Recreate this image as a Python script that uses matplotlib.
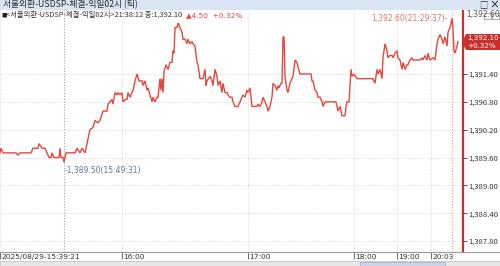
import matplotlib
matplotlib.use("Agg")
import matplotlib.pyplot as plt
from matplotlib.patches import Rectangle, Polygon

plt.rcParams['font.family'] = ['Noto Sans CJK KR', 'DejaVu Sans']

# ---- data (tick index within session, price) ----
tick_idx = [0, 1, 3, 16, 18, 20, 31, 33, 38, 39, 42, 45, 47, 49, 51, 52, 54, 59, 60, 61, 63, 64, 66, 75, 77, 80, 82, 85,
            88, 90, 93, 95, 98, 100, 103, 107, 108, 112, 113, 115, 117, 118, 120, 122, 123, 125, 127, 128, 130, 132,
            133, 135, 137, 139, 142, 143, 145, 147, 148, 150, 152, 153, 155, 157, 158, 160, 161, 162, 163, 164, 166,
            168, 170, 172, 173, 174, 175, 177, 178, 180, 182, 183, 185, 187, 188, 190, 192, 193, 195, 197, 198, 200,
            203, 205, 206, 207, 210, 212, 213, 215, 217, 218, 220, 222, 223, 225, 227, 228, 230, 232, 233, 235, 238,
            240, 242, 243, 245, 247, 248, 250, 252, 257, 258, 260, 262, 263, 265, 267, 268, 270, 272, 273, 275, 277,
            278, 279, 281, 282, 283, 284, 285, 287, 288, 290, 292, 293, 295, 297, 298, 300, 311, 312, 313, 315, 317,
            318, 320, 322, 323, 325, 336, 338, 340, 342, 345, 346, 347, 349, 351, 352, 354, 357, 373, 375, 377, 378,
            380, 382, 383, 385, 387, 388, 390, 392, 393, 395, 397, 398, 400, 402, 403, 405, 407, 408, 410, 412, 413,
            420, 422, 423, 425, 427, 428, 430, 433, 435, 437, 438, 440, 442, 443, 445, 447, 448, 450, 452, 453, 454,
            455, 457, 458]
price = [1389.70, 1389.80, 1389.70, 1389.70, 1389.65, 1389.70, 1389.70, 1389.80, 1389.80, 1389.90, 1389.80, 1389.80,
         1389.70, 1389.60, 1389.60, 1389.70, 1389.60, 1389.60, 1389.80, 1389.60, 1389.60, 1389.50, 1389.70, 1389.70,
         1389.80, 1389.70, 1389.80, 1389.70, 1390.00, 1390.20, 1390.25, 1390.40, 1390.35, 1390.40, 1390.60, 1390.60,
         1390.75, 1390.85, 1390.75, 1391.00, 1390.95, 1391.00, 1390.95, 1391.00, 1390.80, 1390.85, 1390.85, 1391.00,
         1390.90, 1391.00, 1391.05, 1391.25, 1391.40, 1391.25, 1391.25, 1391.15, 1391.25, 1391.05, 1391.10, 1390.95,
         1390.80, 1390.90, 1390.80, 1390.90, 1390.90, 1391.30, 1391.05, 1391.30, 1391.00, 1391.45, 1391.60, 1391.50,
         1391.65, 1391.65, 1391.90, 1391.85, 1392.40, 1392.40, 1392.50, 1392.40, 1392.30, 1392.15, 1392.15, 1392.05,
         1392.15, 1392.05, 1392.10, 1392.05, 1392.00, 1391.65, 1391.60, 1391.30, 1391.30, 1391.50, 1391.15, 1391.25,
         1391.35, 1391.25, 1391.15, 1391.50, 1391.35, 1391.15, 1391.25, 1391.00, 1391.20, 1391.00, 1391.00, 1390.95,
         1390.90, 1390.90, 1390.80, 1390.70, 1390.70, 1390.80, 1390.90, 1390.95, 1390.90, 1391.05, 1391.00, 1391.10,
         1390.70, 1390.70, 1390.75, 1390.70, 1390.80, 1390.90, 1390.80, 1390.70, 1390.60, 1390.70, 1390.90, 1391.20,
         1391.15, 1391.05, 1391.15, 1391.10, 1391.20, 1391.20, 1392.20, 1392.20, 1391.35, 1391.05, 1391.00, 1391.20,
         1391.30, 1391.35, 1391.70, 1391.65, 1391.55, 1391.40, 1391.40, 1391.25, 1391.25, 1391.05, 1391.00, 1390.90,
         1390.90, 1390.80, 1390.70, 1390.80, 1390.80, 1390.60, 1390.70, 1390.50, 1390.50, 1390.70, 1390.80, 1390.80,
         1391.50, 1391.35, 1391.40, 1391.30, 1391.30, 1391.20, 1391.50, 1391.40, 1391.50, 1391.30, 1391.75, 1392.05,
         1391.90, 1391.75, 1391.80, 1391.80, 1391.75, 1391.85, 1391.90, 1391.75, 1391.70, 1391.50, 1391.65, 1391.50,
         1391.60, 1391.60, 1391.70, 1391.75, 1391.70, 1391.70, 1391.75, 1391.70, 1391.80, 1391.70, 1391.85, 1391.70,
         1391.75, 1391.70, 1392.05, 1392.15, 1392.25, 1392.15, 1392.05, 1392.20, 1392.00, 1392.30, 1392.40, 1392.60,
         1392.35, 1391.90, 1391.85, 1392.00, 1392.10]

y_ticks = [1387.80, 1388.40, 1389.00, 1389.60, 1390.20, 1390.80, 1391.40]
x_tick_pos = [0, 122, 248, 354, 397, 431]
x_tick_labels = ["2025/08/29-15:39:21", "16:00", "17:00", "18:00", "19:00", "20:03"]

low_idx, low_val, low_time = 64, 1389.50, "15:49:31"
high_idx, high_val, high_time = 452, 1392.60, "21:29:37"
last_val, change, change_pct = 1392.10, 4.50, 0.32

W, H = 500, 266
fig = plt.figure(figsize=(W / 100, H / 100), dpi=100)
fig.patch.set_facecolor('white')

# title bar
fig.add_artist(Rectangle((0, 1 - 10 / H), 1, 10 / H, transform=fig.transFigure, facecolor='#d9e5f3',
                         edgecolor='none'))
fig.text(3 / W, 1 - 5 / H, "서울외환-USDSP-체결-익일02시 (틱)", fontsize=6.3, color='#2a2a2a',
         va='center', ha='left')
fig.text(483 / W, 1 - 5 / H, "□", fontsize=6, color='#333333', va='center', ha='center')
fig.text(494 / W, 1 - 5 / H, "×", fontsize=7, color='#333333', va='center', ha='center', weight='bold')

# main axes
ax_right_px, ax_top_px, ax_bot_px = 463, 10, 252
ax = fig.add_axes([0, (H - ax_bot_px) / H, ax_right_px / W, (ax_bot_px - ax_top_px) / H])
ax.set_facecolor('white')

ax.plot(tick_idx, price, color='#e5473c', lw=1.0, solid_joinstyle='miter', zorder=3)

px_per_unit = 46.4
y_top = 1391.40 + (74 - ax_top_px) / px_per_unit
y_bot = 1391.40 - (ax_bot_px - 74) / px_per_unit
ax.set_ylim(y_bot, y_top)
ax.set_xlim(0, 463)

ax.yaxis.tick_right()
ax.set_yticks(y_ticks)
ax.set_yticklabels([f"{v:,.2f}" for v in y_ticks])
ax.tick_params(axis='y', length=3, width=0.6, color='#333333', pad=1, labelsize=5.5, labelcolor='#333333')

ax.set_xticks(x_tick_pos)
ax.tick_params(axis='x', length=5, width=0.6, color='#555555', labelbottom=False)
for pos, lab in zip(x_tick_pos, x_tick_labels):
    ax.annotate(lab, xy=(pos, 0), xycoords=('data', 'axes fraction'), xytext=(1, -5),
                textcoords='offset pixels', fontsize=5.4, color='#333333', ha='left', va='center',
                family=['DejaVu Sans'], annotation_clip=False)

ax.grid(True, linestyle=(0, (1, 2)), color='#c8c8c8', lw=0.6, zorder=0)

for s in ['top', 'left', 'bottom']:
    ax.spines[s].set_visible(False)
ax.spines['right'].set_color('#c9302c')
ax.spines['right'].set_linewidth(1.6)

# low / high markers
ax.axvline(low_idx, color='#8fa3bd', lw=0.8, linestyle=(0, (1, 1.5)), zorder=1)
ax.axvline(high_idx, color='#d9a3a0', lw=0.8, linestyle=(0, (1, 1.5)), zorder=1)
ax.annotate(f"-{low_val:,.2f}({low_time})", xy=(low_idx, low_val), xytext=(1, -8), textcoords='offset pixels',
            fontsize=5.5, color='#5878a6', ha='left', va='center', family=['DejaVu Sans'])
ax.annotate(f"{high_val:,.2f}({high_time})-", xy=(high_idx, high_val), xytext=(-4, 0), textcoords='offset pixels',
            fontsize=5.5, color='#d9776b', ha='right', va='center', family=['DejaVu Sans'])

# subtitle row
sub_y = 1 - 15 / H
fig.text(1 / W, sub_y, "■", fontsize=4, color='#222222', va='center', ha='left')
t2 = fig.text(6 / W, sub_y, f"<서울외환-USDSP-체결-익일02시>21:38:12 종:{last_val:,.2f}", fontsize=5.3,
              color='#333333', va='center', ha='left')
fig.canvas.draw()
bb = t2.get_window_extent()
fig.text((bb.x1 + 4) / W, sub_y, f"▲{change:.2f}  +{change_pct:.2f}%", fontsize=5.3, color='#e0453a',
         va='center', ha='left', family=['DejaVu Sans'])

# right side labels
fig.text(466 / W, 1 - 15 / H, f"{high_val:,.2f}", fontsize=5.5, color='#555555', va='center', ha='left',
         family=['DejaVu Sans'])
fig.add_artist(Rectangle((484 / W, 1 - 19 / H), 7 / W, 6 / H, transform=fig.transFigure, facecolor='white',
                         edgecolor='#888888', lw=0.5))
fig.add_artist(Rectangle((492 / W, 1 - 19 / H), 7 / W, 6 / H, transform=fig.transFigure, facecolor='white',
                         edgecolor='#888888', lw=0.5))
# current price box with arrow
y_cur = 1 - 42 / H
box = Polygon([(462 / W, y_cur), (466 / W, 1 - 34 / H), (500 / W, 1 - 34 / H), (500 / W, 1 - 50 / H),
               (466 / W, 1 - 50 / H)], closed=True, transform=fig.transFigure, facecolor='#c9302c',
              edgecolor='none')
fig.add_artist(box)
fig.text(467 / W, 1 - 38 / H, f"{last_val:,.2f}", fontsize=5.1, color='white', va='center', ha='left',
         family=['DejaVu Sans'])
fig.text(467 / W, 1 - 46 / H, f"+{change_pct:.2f}%", fontsize=5.1, color='white', va='center', ha='left',
         family=['DejaVu Sans'])

# bottom border and scrollbar
fig.add_artist(plt.Line2D([0, 1], [(H - 252) / H] * 2, transform=fig.transFigure, color='#9a9a9a', lw=0.8))
fig.add_artist(Rectangle((0, 0), 1, 5 / H, transform=fig.transFigure, facecolor='#e6e6e6', edgecolor='#bdbdbd',
                         lw=0.5))
fig.add_artist(Rectangle((360 / W, 0.5 / H), 85 / W, 4 / H, transform=fig.transFigure, facecolor='#c9d5e6',
                         edgecolor='#9aaac4', lw=0.5))

fig.savefig("out.png", dpi=100, facecolor='white')
